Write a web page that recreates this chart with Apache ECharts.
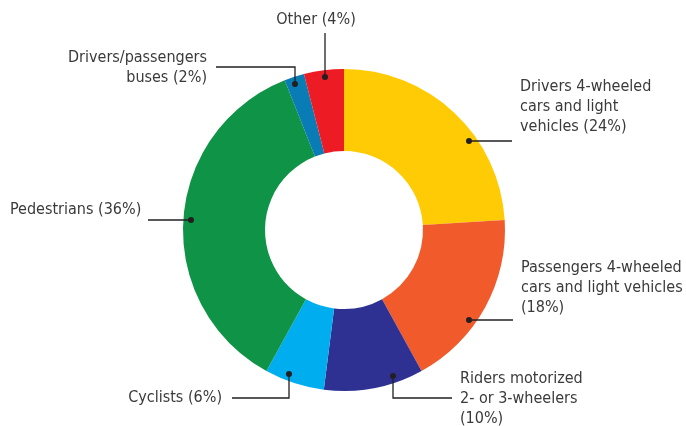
<!DOCTYPE html>
<html>
<head>
<meta charset="utf-8">
<script src="https://cdn.jsdelivr.net/npm/echarts@6/dist/echarts.min.js"></script>
<style>
  html, body { margin: 0; padding: 0; background: #fff; }
  #chart { width: 686px; height: 426px; }
</style>
</head>
<body>
<div id="chart"></div>
<script>
// Road traffic deaths by road user type (share, %)
const categories = [
  'Drivers 4-wheeled\ncars and light\nvehicles',
  'Passengers 4-wheeled\ncars and light vehicles',
  'Riders motorized\n2- or 3-wheelers',
  'Cyclists',
  'Pedestrians',
  'Drivers/passengers\nbuses',
  'Other'
];
const shares = [24, 18, 10, 6, 36, 2, 4];
const colors = ['#FFCB05', '#F15A2B', '#2E3192', '#00AEEF', '#0F9346', '#0A7CB5', '#ED1C24'];

// Where each percentage is appended: on its own line or on the last line
const pctOnNewLine = [false, true, true, false, false, false, false];

// Leader-line layout: where along the slice the dot sits (fraction of the arc),
// and the route the line takes to its label.
const leaderLayout = [
  { frac: 0.63, route: d => [d, [512, d[1]]],              label: { x: 520, y: 107, align: 'left' } },
  { frac: 0.61, route: d => [d, [513, d[1]]],              label: { x: 521, y: 288, align: 'left' } },
  { frac: 0.28, route: d => [d, [d[0], 398], [452, 398]],  label: { x: 460, y: 399, align: 'left' } },
  { frac: 0.63, route: d => [d, [d[0], 398], [232, 398]],  label: { x: 222, y: 398, align: 'right' } },
  { frac: 0.50, route: d => [d, [148, d[1]]],              label: { x: 10,  y: 210, align: 'left' } },
  { frac: 0.40, route: d => [d, [d[0], 67], [216, 67]],    label: { x: 207, y: 68,  align: 'right' } },
  { frac: 0.50, route: d => [d, [d[0], 33]],               label: { x: 316, y: 20,  align: 'center' } }
];

const FONT = '"Liberation Sans Narrow", "DejaVu Sans Condensed", "Roboto", sans-serif';
const INK = '#231F20';

const chart = echarts.init(document.getElementById('chart'), null, { renderer: 'canvas' });

const data = categories.map((name, i) => ({
  name: name,
  value: shares[i],
  itemStyle: { color: colors[i] }
}));

chart.setOption({
  animation: false,
  backgroundColor: '#ffffff',
  series: [{
    type: 'pie',
    center: [344, 230],
    radius: [79, 161],
    startAngle: 90,
    clockwise: true,
    avoidLabelOverlap: false,
    data: data,
    emphasis: { disabled: true },
    label: {
      show: true,
      position: 'outside',
      fontFamily: FONT,
      fontSize: 16,
      lineHeight: 20,
      color: '#3A3A3A',
      formatter: p => p.name + (pctOnNewLine[p.dataIndex] ? '\n' : ' ') + '(' + p.value + '%)'
    },
    labelLine: { show: false }
  }]
});

// Dot positions come from the pie's own sector layout
const seriesData = chart.getModel().getSeriesByIndex(0).getData();
const dots = shares.map((v, i) => {
  const L = seriesData.getItemLayout(i);
  const a = L.startAngle + (L.endAngle - L.startAngle) * leaderLayout[i].frac;
  const r = L.r * 0.955;
  return [Math.round(L.cx + r * Math.cos(a)), Math.round(L.cy + r * Math.sin(a))];
});

const leaderGraphics = [];
dots.forEach((d, i) => {
  leaderGraphics.push({
    type: 'polyline',
    shape: { points: leaderLayout[i].route(d) },
    style: { stroke: INK, lineWidth: 1.3, fill: null },
    z: 100,
    silent: true
  });
  leaderGraphics.push({
    type: 'circle',
    shape: { cx: d[0], cy: d[1], r: 3 },
    style: { fill: INK },
    z: 101,
    silent: true
  });
});

chart.setOption({
  series: [{
    labelLayout: function (params) {
      const cfg = leaderLayout[params.dataIndex];
      return {
        x: cfg.label.x,
        y: cfg.label.y,
        align: cfg.label.align,
        verticalAlign: 'middle'
      };
    }
  }],
  graphic: leaderGraphics
});
</script>
</body>
</html>
